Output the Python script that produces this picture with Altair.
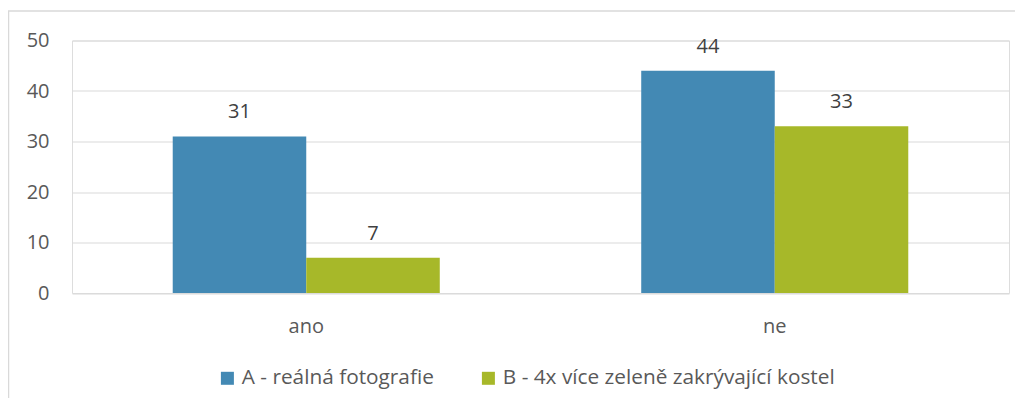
import altair as alt
import pandas as pd

categories = ["ano", "ne"]
series = ["A - reálná fotografie", "B - 4x více zeleně zakrývající kostel"]
values_a = [31, 44]
values_b = [7, 33]
colors = ["#4389B4", "#A7B829"]
y_ticks = [0, 10, 20, 30, 40, 50]

rows = []
for c, a, b in zip(categories, values_a, values_b):
    rows.append({"cat": c, "series": series[0], "value": a})
    rows.append({"cat": c, "series": series[1], "value": b})
df = pd.DataFrame(rows)

FONT = "Open Sans"

base = alt.Chart(df).encode(
    x=alt.X("cat:N", sort=categories, title=None,
            scale=alt.Scale(paddingInner=0.43, paddingOuter=0.215),
            axis=alt.Axis(labelAngle=0, domain=False, ticks=False, tickSize=0,
                          labelPadding=39, labelBaseline="alphabetic",
                          labelFont=FONT, labelFontSize=20, labelColor="#595959")),
    xOffset=alt.XOffset("series:N", sort=series,
                        scale=alt.Scale(paddingInner=0, paddingOuter=0)),
    y=alt.Y("value:Q", title=None,
            scale=alt.Scale(domain=[0, 50], nice=False),
            axis=alt.Axis(values=y_ticks, domain=False, ticks=False, tickSize=0,
                          labelPadding=23, gridColor="#D9D9D9", gridWidth=1.2,
                          labelFont=FONT, labelFontSize=20, labelColor="#595959")),
)

bars = base.mark_bar().encode(
    color=alt.Color("series:N", sort=series,
                    scale=alt.Scale(domain=series, range=colors),
                    legend=alt.Legend(title=None, orient="none", legendX=145, legendY=327,
                                      direction="horizontal", symbolType="square",
                                      symbolSize=169, symbolStrokeWidth=0,
                                      labelFont=FONT, labelFontSize=20.8, labelLimit=0,
                                      labelColor="#595959", labelOffset=4,
                                      columnPadding=44)),
)

labels = base.mark_text(baseline="alphabetic", dy=-18, font=FONT, fontSize=20,
                        color="#404040").encode(text=alt.Text("value:Q"))

border = alt.Chart(pd.DataFrame({"k": [0]})).mark_rect(
    fill="transparent", stroke="#D9D9D9", strokeWidth=1.5
).encode(x=alt.value(-63.5), x2=alt.value(980), y=alt.value(-29.5), y2=alt.value(420))

chart = alt.layer(border, bars, labels).properties(
    width=937, height=252.5,
    autosize=alt.AutoSizeParams(type="none"),
    padding={"left": 64, "top": 32.5, "right": 6, "bottom": 105},
).configure_view(stroke=None).configure(background="white")

chart.save("out.html", embed_options={"renderer": "svg", "actions": False})
